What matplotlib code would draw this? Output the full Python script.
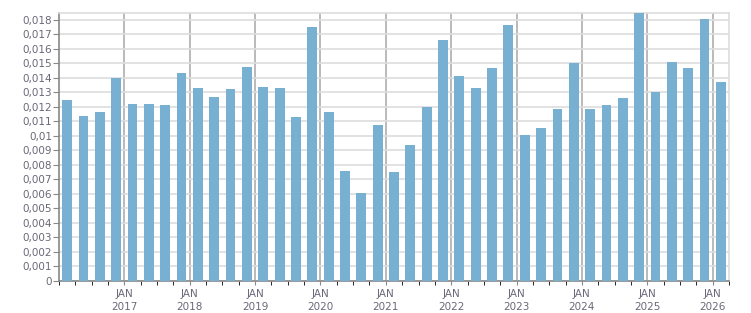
import matplotlib.pyplot as plt
from matplotlib.ticker import FixedLocator, MultipleLocator

# quarterly values, Q1 2016 .. Q1 2026
values = [
    0.01247, 0.01136, 0.01164, 0.01398,
    0.01219, 0.01219, 0.01212, 0.01433,
    0.01329, 0.01267, 0.01322, 0.01474,
    0.01336, 0.01329, 0.01129, 0.01749,
    0.01164, 0.00758, 0.00606, 0.01074,
    0.00751, 0.00937, 0.01198, 0.01660,
    0.01412, 0.01329, 0.01467, 0.01763,
    0.01006, 0.01054, 0.01185, 0.01501,
    0.01185, 0.01212, 0.01260, 0.01845,
    0.01302, 0.01508, 0.01467, 0.01804,
    0.01371,
]
years = list(range(2017, 2027))
year_labels = [f"JAN\n{y}" for y in years]

bar_color = "#77b0d1"
text_color = "#6a6878"

fig = plt.figure(figsize=(7.51, 3.13), dpi=100)
ax = fig.add_axes([59 / 751, 32 / 313, 670 / 751, 267.7 / 313])

x = [i + 0.5 for i in range(len(values))]
ax.bar(x, values, width=0.6, color=bar_color, zorder=3)

ax.set_xlim(0, len(values))
ax.set_ylim(0, 0.01844)

# y axis
ax.yaxis.set_major_locator(MultipleLocator(0.001))
yt = [i / 1000 for i in range(19)]
ax.set_yticks(yt)
ax.set_yticklabels([f"{v:g}".replace(".", ",") for v in yt])
ax.grid(axis="y", color="#dddddd", linewidth=1.2, zorder=0)

# x axis: year boundaries every 4 quarters
major = [4 * (i + 1) for i in range(len(years))]
ax.xaxis.set_major_locator(FixedLocator(major))
ax.set_xticklabels(year_labels, linespacing=1.3)
ax.xaxis.set_minor_locator(FixedLocator(range(len(values) + 1)))
for m in major:
    ax.axvline(m, color="#b4b4b4", linewidth=1.3, zorder=1)

ax.tick_params(axis="both", colors="#888888", labelcolor=text_color, labelsize=7.5)
ax.tick_params(axis="y", length=4, pad=1)
ax.tick_params(axis="x", which="major", length=3, pad=3)
ax.tick_params(axis="x", which="minor", length=3)

for s in ("left", "bottom"):
    ax.spines[s].set_color("#888888")
    ax.spines[s].set_linewidth(1.2)
for s in ("top", "right"):
    ax.spines[s].set_color("#dddddd")
    ax.spines[s].set_linewidth(1.2)

fig.savefig("out.png", dpi=100)
